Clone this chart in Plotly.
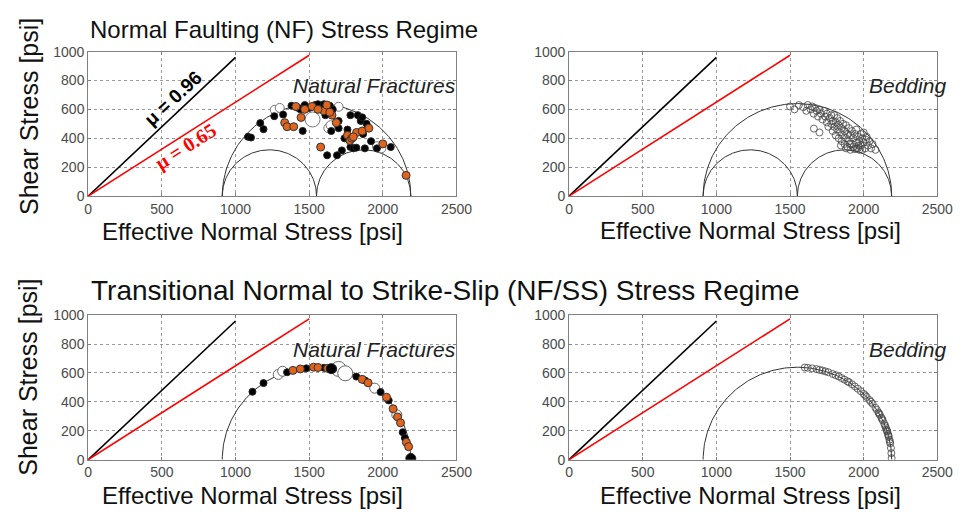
import numpy as np
import plotly.graph_objects as go

# Principal effective stresses [psi]
nf_s3, nf_s2, nf_s1 = 910, 1550, 2190      # normal faulting regime
ss_s3, ss_s1 = 910, 2190                   # transitional NF/SS regime

# Frictional sliding lines
mu_values = [0.96, 0.65]
mu_colors = ["black", "red"]
mu_x_end = [1000, 1500]

x_ticks = [0, 500, 1000, 1500, 2000, 2500]
y_ticks = [0, 200, 400, 600, 800, 1000]

# ---- NF regime, natural fractures ----
nf_frac_black_x = [1085, 1105, 1168, 1190, 1263, 1323, 1380, 1420, 1456, 1470, 1500, 1540, 1560, 1580,
                   1600, 1622, 1640, 1660, 1689, 1700, 1722, 1740, 1760, 1780, 1800, 1820, 1830, 1850,
                   1860, 1866, 1878, 1890, 1900, 1920, 1960, 2054, 1700, 1780, 1650, 1440, 1610]
nf_frac_black_y = [410, 405, 505, 463, 553, 564, 625, 612, 451, 630, 610, 630, 636, 600,
                   636, 282, 625, 600, 282, 520, 316, 400, 460, 340, 330, 335, 560, 520,
                   545, 429, 330, 500, 470, 380, 330, 339, 470, 560, 450, 600, 560]
nf_frac_orange_x = [1334, 1350, 1395, 1410, 1445, 1470, 1520, 1578, 1600, 1620, 1655, 1684, 1760, 1777,
                    1790, 1822, 1860, 1905, 2000, 1560, 1640, 2158, 1800]
nf_frac_orange_y = [508, 480, 480, 620, 544, 600, 620, 339, 590, 630, 560, 508, 420, 384,
                    400, 440, 450, 470, 361, 600, 580, 143, 410]
nf_frac_open_x = [1266, 1300, 1630, 1645, 1700, 1990, 1960]
nf_frac_open_y = [597, 610, 470, 490, 618, 330, 345]
nf_frac_open_big_x = [1523]
nf_frac_open_big_y = [530]

# ---- NF regime, bedding ----
nf_bed_x = [1500, 1530, 1560, 1590, 1610, 1620, 1640, 1650, 1660, 1670, 1680, 1690, 1700, 1662,
            1710, 1720, 1730, 1740, 1750, 1750, 1760, 1770, 1780, 1780, 1790, 1790, 1800, 1800,
            1810, 1810, 1820, 1820, 1830, 1830, 1840, 1840, 1850, 1850, 1860, 1860, 1870, 1870,
            1880, 1880, 1890, 1890, 1900, 1900, 1910, 1910, 1920, 1920, 1930, 1930, 1940, 1940,
            1950, 1950, 1960, 1960, 1970, 1970, 1980, 1980, 1990, 1990, 2000, 2000, 2010, 2020,
            2030, 2040, 2050, 2060, 2080, 1700, 1880, 1950, 1845, 1905, 1965, 2015]
nf_bed_y = [620, 600, 630, 615, 590, 630, 600, 620, 570, 610, 590, 550, 600, 467,
            570, 530, 590, 550, 510, 570, 480, 540, 500, 560, 450, 520, 480, 560,
            420, 510, 460, 540, 400, 490, 440, 520, 380, 470, 420, 500, 360, 450,
            400, 490, 340, 430, 380, 470, 320, 420, 360, 450, 400, 340, 325, 430,
            370, 460, 330, 410, 320, 380, 350, 430, 320, 400, 370, 440, 330, 410,
            350, 380, 330, 360, 320, 440, 330, 330, 350, 360, 350, 390]

# ---- NF/SS regime, natural fractures ----
ss_frac_black_x = [1115, 1190, 1350, 1480, 1600, 1820, 1880, 1985, 2040, 2135, 2150]
ss_frac_black_y = [470, 530, 605, 632, 636, 575, 548, 468, 410, 190, 150]
ss_frac_black_big_x = [1650, 2190]
ss_frac_black_big_y = [630, 8]
ss_frac_orange_x = [1390, 1440, 1530, 1560, 1625, 1660, 1860, 1900, 2025, 2070, 2100, 2120, 2160, 2175]
ss_frac_orange_y = [618, 628, 640, 638, 632, 628, 556, 532, 432, 352, 296, 255, 120, 90]
ss_frac_open_x = [1290, 1320, 1945, 2095]
ss_frac_open_y = [590, 612, 495, 310]
ss_frac_open_big_x = [1700, 1745]
ss_frac_open_big_y = [628, 598]

# ---- NF/SS regime, bedding ----
ss_bed_x = [1600, 1620, 1650, 1680, 1700, 1720, 1740, 1760, 1790, 1810, 1830, 1850, 1870, 1890,
            1900, 1920, 1940, 1960, 1980, 2000, 2010, 2020, 2040, 2050, 2060, 2080, 2090, 2100,
            2110, 2120, 2130, 2140, 2150, 2155, 2160, 2165, 2170, 2175, 2180, 2185, 2190,
            2105, 2125, 2145, 2158, 2168, 2178, 2188]
ss_bed_y = [638, 636, 632, 627, 622, 617, 611, 605, 593, 585, 576, 565, 554, 542,
            536, 522, 507, 491, 474, 455, 445, 434, 412, 400, 387, 359, 344, 327,
            310, 291, 271, 248, 223, 209, 194, 177, 159, 138, 113, 80, 10,
            318, 281, 236, 200, 168, 125, 45]

FONT = "Liberation Sans, Arial, sans-serif"
ORANGE = "#e0641c"

fig = go.Figure()

panels = [("x", "y"), ("x2", "y2"), ("x3", "y3"), ("x4", "y4")]


def half_circle(a, b):
    c, r = (a + b) / 2, (b - a) / 2
    t = np.linspace(0, np.pi, 181)
    return c + r * np.cos(t), r * np.sin(t)


def add_frame_lines(xa, ya):
    for mu, col, xe in zip(mu_values, mu_colors, mu_x_end):
        fig.add_trace(go.Scatter(x=[0, xe], y=[0, mu * xe], mode="lines",
                                 line=dict(color=col, width=1.6),
                                 xaxis=xa, yaxis=ya, showlegend=False, hoverinfo="skip"))


def add_circles(xa, ya, pairs):
    for a, b in pairs:
        cx, cy = half_circle(a, b)
        fig.add_trace(go.Scatter(x=cx, y=cy, mode="lines", line=dict(color="#333", width=1),
                                 xaxis=xa, yaxis=ya, showlegend=False, hoverinfo="skip"))


def add_points(xa, ya, xs, ys, fill, edge, size, width=1.0):
    fig.add_trace(go.Scatter(x=xs, y=ys, mode="markers",
                             marker=dict(size=size, color=fill, line=dict(color=edge, width=width)),
                             xaxis=xa, yaxis=ya, showlegend=False))


# Panel 1: NF natural fractures
add_frame_lines("x", "y")
add_circles("x", "y", [(nf_s3, nf_s1), (nf_s3, nf_s2), (nf_s2, nf_s1)])
add_points("x", "y", nf_frac_open_big_x, nf_frac_open_big_y, "white", "#777", 15)
add_points("x", "y", nf_frac_open_x, nf_frac_open_y, "white", "#777", 9)
add_points("x", "y", nf_frac_black_x, nf_frac_black_y, "black", "#222", 7)
add_points("x", "y", nf_frac_orange_x, nf_frac_orange_y, ORANGE, "#333", 8)

# Panel 2: NF bedding
add_frame_lines("x2", "y2")
add_circles("x2", "y2", [(nf_s3, nf_s1), (nf_s3, nf_s2), (nf_s2, nf_s1)])
add_points("x2", "y2", nf_bed_x, nf_bed_y, "rgba(0,0,0,0)", "#444", 7, 0.8)

# Panel 3: NF/SS natural fractures
add_frame_lines("x3", "y3")
add_circles("x3", "y3", [(ss_s3, ss_s1)])
add_points("x3", "y3", ss_frac_open_big_x, ss_frac_open_big_y, "white", "#666", 15)
add_points("x3", "y3", ss_frac_open_x, ss_frac_open_y, "white", "#666", 10)
add_points("x3", "y3", ss_frac_black_x, ss_frac_black_y, "black", "#222", 7)
add_points("x3", "y3", ss_frac_orange_x, ss_frac_orange_y, ORANGE, "#333", 8)
add_points("x3", "y3", ss_frac_black_big_x, ss_frac_black_big_y, "black", "#222", 10)

# Panel 4: NF/SS bedding
add_frame_lines("x4", "y4")
add_circles("x4", "y4", [(ss_s3, ss_s1)])
add_points("x4", "y4", ss_bed_x, ss_bed_y, "rgba(0,0,0,0)", "#444", 7, 0.8)

W, H = 969, 519
x_dom = [[86 / W, 462 / W], [577 / W, 953 / W]]
y_dom = [[1 - 194 / H, 1 - 45 / H], [1 - 466 / H, 1 - 317 / H]]

axis_common = dict(showgrid=True, gridcolor="#9a9a9a", griddash="dot", gridwidth=1,
                   showline=True, linecolor="#808080", linewidth=1, mirror="ticks",
                   ticks="inside", ticklen=3, tickcolor="#808080",
                   tickfont=dict(family=FONT, size=14, color="#4a4a4a"), zeroline=False)

layout = dict(width=W, height=H, margin=dict(l=0, r=0, t=0, b=0),
              paper_bgcolor="white", plot_bgcolor="white", showlegend=False)
for i, (xa, ya) in enumerate(panels):
    row, col = divmod(i, 2)
    xk = "xaxis" if i == 0 else f"xaxis{i + 1}"
    yk = "yaxis" if i == 0 else f"yaxis{i + 1}"
    layout[xk] = dict(axis_common, domain=x_dom[col], range=[0, 2500], tickvals=x_ticks,
                      anchor=ya)
    layout[yk] = dict(axis_common, domain=y_dom[row], range=[0, 1000], tickvals=y_ticks,
                      anchor=xa)
fig.update_layout(**layout)

ann = []
title_font = dict(family=FONT, size=24, color="#111")
ann.append(dict(text="Normal Faulting (NF) Stress Regime", x=86 / W, y=1 - 22 / H,
                xref="paper", yref="paper", xanchor="left", yanchor="middle",
                showarrow=False, font=title_font))
ann.append(dict(text="Transitional Normal to Strike-Slip (NF/SS) Stress Regime", x=87 / W,
                y=1 - 291 / H, xref="paper", yref="paper", xanchor="left", yanchor="middle",
                showarrow=False, font=dict(family=FONT, size=28, color="#111")))
for cx, cy in [(254, 231), (762, 230), (254, 503), (762, 503)]:
    ann.append(dict(text="Effective Normal Stress [psi]", x=cx / W, y=1 - cy / H,
                    xref="paper", yref="paper", xanchor="center", yanchor="middle",
                    showarrow=False, font=title_font))
for cy in [112, 381]:
    ann.append(dict(text="Shear Stress [psi]", x=25 / W, y=1 - cy / H, textangle=-90,
                    xref="paper", yref="paper", xanchor="center", yanchor="middle",
                    showarrow=False, font=dict(family=FONT, size=25, color="#111")))

label_font = dict(family=FONT, size=21, color="#222")
for xr, yr, txt, shift in [("x", "y", "Natural Fractures", 9), ("x2", "y2", "Bedding", 18),
                           ("x3", "y3", "Natural Fractures", 9), ("x4", "y4", "Bedding", 18)]:
    ann.append(dict(text=f"<i>{txt}</i>", x=2450, y=765, xref=xr, yref=yr, xshift=shift,
                    xanchor="right", yanchor="middle", showarrow=False, font=label_font))

ann.append(dict(text=f"<b>μ = {mu_values[0]:.2f}</b>", x=575, y=675, xref="x", yref="y",
                textangle=-43, showarrow=False,
                font=dict(family=FONT, size=19, color="black")))
ann.append(dict(text=f"<b>μ = {mu_values[1]:.2f}</b>", x=665, y=341, xref="x", yref="y",
                textangle=-32.5, showarrow=False,
                font=dict(family="Liberation Serif, Times New Roman, serif", size=20, color="red")))
fig.update_layout(annotations=ann)

fig.write_html("out.html")
